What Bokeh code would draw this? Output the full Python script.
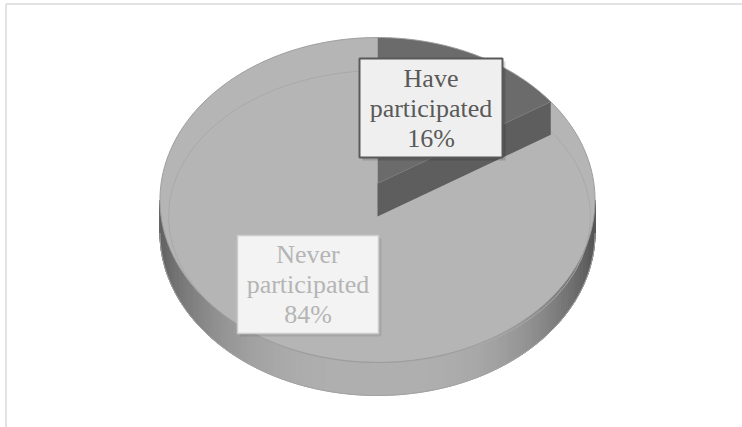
import numpy as np
from bokeh.plotting import figure
from bokeh.models import Range1d
from bokeh.core.properties import value
from bokeh.embed import file_html
from bokeh.resources import INLINE

# ---- data ----
categories = ["Have participated", "Never participated"]
values = [16, 84]
top_colors = ["#6b6b6b", "#b5b5b5"]
cut_colors = ["#5e5e5e", "#a0a0a0"]
text_colors = ["#595959", "#b5b5b5"]
box_fill = ["#efefef", "#f3f3f3"]
box_line = ["#595959", "#cccccc"]
box_line_w = [2, 1.5]
# label box centers / sizes (layout)
label_cx = [430.5, 307.5]
label_cy = [107.5, 284.0]
label_w = [143, 141]
label_h = [99, 98]

W, H = 742, 427
p = figure(width=W, height=H, x_range=Range1d(0, W), y_range=Range1d(H, 0),
           output_backend="svg", toolbar_location=None,
           x_axis_type=None, y_axis_type=None, min_border=0)
p.grid.visible = False
p.outline_line_color = None
p.background_fill_color = "white"
p.border_fill_color = "white"

# chart-area border
p.segment(x0=[5.5, 5.5], y0=[3.5, 3.5], x1=[5.5, W], y1=[H, 3.5],
          line_color="#d9d9d9", line_width=1.5)

# ---- perspective pie geometry ----
CX, CY = 377.0, 183.0
A, B, E = 216.4, 160.8, 0.1016
T = 33.0


def proj(theta, r=1.0):
    u = r * np.sin(theta)
    v = r * np.cos(theta)
    d = 1 + E * v
    return CX + A * u / d, CY - B * v / d


# side band (front part) as gradient strips
t0 = np.arccos(-E)
t1 = 2 * np.pi - t0
ts = np.linspace(t0, t1, 161)
fx, fy = proj(ts)
xs, ys, cols = [], [], []
for i in range(len(ts) - 1):
    xs.append([fx[i], fx[i + 1], fx[i + 1], fx[i]])
    ys.append([fy[i], fy[i + 1], fy[i + 1] + T, fy[i] + T])
    nx = ((fx[i] + fx[i + 1]) / 2 - CX) / A
    k = 90 if nx > 0 else 75
    g = int(np.clip(176 - k * abs(nx) ** 3, 0, 255))
    cols.append("#%02x%02x%02x" % (g, g, g))
p.patches(xs, ys, fill_color=cols, line_color=cols, line_width=1)
p.line(fx, fy + T, line_color="#a3a3a3", line_width=1)

# slices (top faces)
fracs = np.array(values, dtype=float) / sum(values)
starts = np.concatenate([[0], np.cumsum(fracs)[:-1]]) * 2 * np.pi
ends = np.cumsum(fracs) * 2 * np.pi

order = [1, 0]
for i in order:
    th = np.linspace(starts[i], ends[i], 200)
    ax, ay = proj(th)
    px = np.concatenate([[CX], ax])
    py = np.concatenate([[CY], ay])
    p.patch(px, py, fill_color=top_colors[i], line_color=None)
    if i == 1:
        p.ellipse(x=[379], y=[216], width=422, height=292,
                  fill_color=None, line_color="#a9a9a9", line_width=1)

# cut face of the small slice
ex, ey = proj(ends[0])
p.patch([CX, ex, ex, CX], [CY, ey, ey + T, CY + T],
        fill_color=cut_colors[0], line_color=None)
p.line([CX, ex], [CY, ey], line_color="#7a7a7a", line_width=0.8)

# rim outline
ta = np.linspace(0, 2 * np.pi, 400)
rx, ry = proj(ta)
p.line(rx, ry, line_color="#9c9c9c", line_width=1)

# ---- data labels ----
for i, cat in enumerate(categories):
    lines = cat.split(" ") + [f"{values[i]}%"]
    x0 = label_cx[i] - label_w[i] / 2
    x1 = label_cx[i] + label_w[i] / 2
    y0 = label_cy[i] - label_h[i] / 2
    y1 = label_cy[i] + label_h[i] / 2
    p.quad(left=[x0 + 3], right=[x1 + 3], top=[y0 + 3], bottom=[y1 + 3],
           fill_color="black", fill_alpha=0.15 if i == 0 else 0.08, line_color=None)
    p.quad(left=[x0], right=[x1], top=[y0], bottom=[y1],
           fill_color=box_fill[i], line_color=box_line[i], line_width=box_line_w[i])
    n = len(lines)
    lh = 30.0
    ly = [label_cy[i] + (k - (n - 1) / 2) * lh for k in range(n)]
    p.text(x=[label_cx[i]] * n, y=ly, text=lines,
           text_font=value("Liberation Serif"),
           text_font_size="26px",
           text_color=text_colors[i], text_align="center", text_baseline="middle")

open("out.html", "w").write(file_html(p, INLINE))
